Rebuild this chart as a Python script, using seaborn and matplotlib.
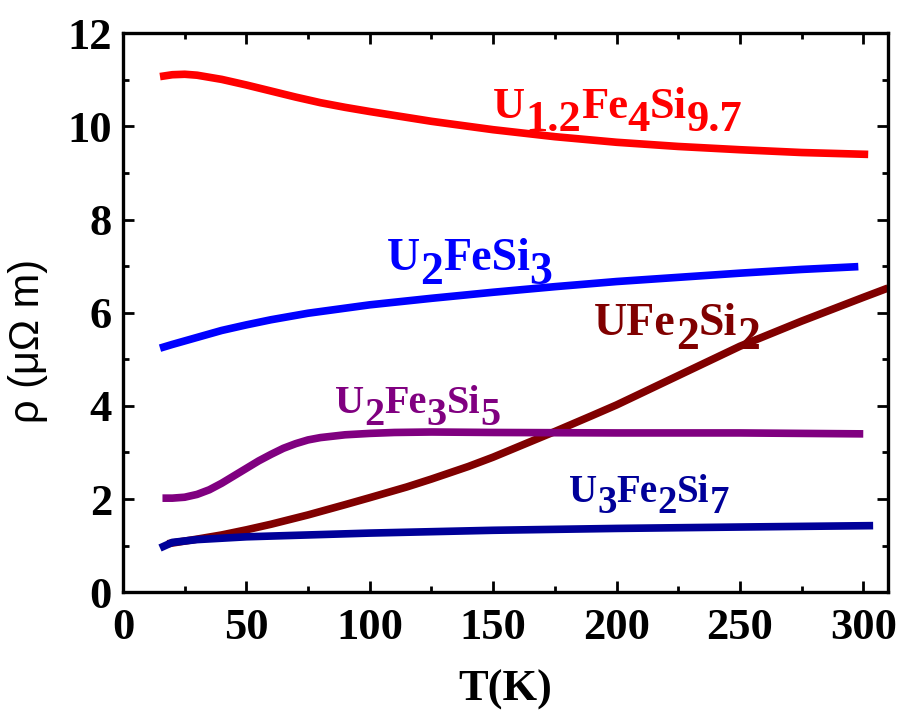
import numpy as np
import pandas as pd
import matplotlib
matplotlib.use("Agg")
import matplotlib.pyplot as plt
from matplotlib.ticker import MultipleLocator
import seaborn as sns

# resistivity curves (T in K, rho in micro-ohm m)
t_u12fe4si97 = [15, 20, 25, 30, 40, 50, 60, 70, 80, 90, 100, 125, 150, 175, 200, 225, 250, 275, 302]
rho_u12fe4si97 = [11.07, 11.11, 11.12, 11.10, 11.01, 10.89, 10.76, 10.63, 10.51, 10.41, 10.32,
                  10.11, 9.93, 9.78, 9.66, 9.57, 9.50, 9.44, 9.40]

t_u2fesi3 = [15, 20, 30, 40, 50, 60, 75, 100, 125, 150, 175, 200, 225, 250, 275, 298]
rho_u2fesi3 = [5.24, 5.32, 5.47, 5.62, 5.74, 5.85, 5.99, 6.17, 6.31, 6.44, 6.56, 6.67, 6.76, 6.85,
               6.93, 6.99]

t_ufe2si2 = [18, 30, 40, 50, 60, 75, 90, 100, 115, 125, 140, 150, 165, 175, 190, 200, 225, 250,
             275, 300, 310]
rho_ufe2si2 = [1.04, 1.14, 1.23, 1.34, 1.46, 1.66, 1.88, 2.03, 2.26, 2.43, 2.70, 2.90, 3.23, 3.45,
               3.79, 4.02, 4.65, 5.28, 5.82, 6.33, 6.53]

t_u2fe3si5 = [16, 20, 25, 30, 35, 40, 45, 50, 55, 60, 65, 70, 75, 80, 90, 100, 110, 125, 150, 200,
              250, 300]
rho_u2fe3si5 = [2.02, 2.02, 2.04, 2.10, 2.20, 2.34, 2.50, 2.66, 2.82, 2.96, 3.09, 3.19, 3.27, 3.32,
                3.38, 3.41, 3.43, 3.44, 3.43, 3.42, 3.42, 3.40]

t_u3fe2si7 = [15, 20, 30, 50, 75, 100, 150, 200, 250, 304]
rho_u3fe2si7 = [0.95, 1.07, 1.13, 1.19, 1.23, 1.27, 1.33, 1.37, 1.40, 1.43]

compounds = ["U1.2Fe4Si9.7", "U2FeSi3", "UFe2Si2", "U2Fe3Si5", "U3Fe2Si7"]
colors = ["#ff0000", "#0000ff", "#800000", "#800080", "#000099"]
# formula pieces: (text, is_subscript)
formulas = [
    [("U", 0), ("1.2", 1), ("Fe", 0), ("4", 1), ("Si", 0), ("9.7", 1)],
    [("U", 0), ("2", 1), ("FeSi", 0), ("3", 1)],
    [("UFe", 0), ("2", 1), ("Si", 0), ("2", 1)],
    [("U", 0), ("2", 1), ("Fe", 0), ("3", 1), ("Si", 0), ("5", 1)],
    [("U", 0), ("3", 1), ("Fe", 0), ("2", 1), ("Si", 0), ("7", 1)],
]
label_pos = [(149.9, 10.18), (106.9, 6.92), (191.0, 5.52), (85.8, 3.84), (180.7, 1.945)]
label_size = [32, 33, 33, 29, 28]

series = [(t_u12fe4si97, rho_u12fe4si97), (t_u2fesi3, rho_u2fesi3), (t_ufe2si2, rho_ufe2si2),
          (t_u2fe3si5, rho_u2fe3si5), (t_u3fe2si7, rho_u3fe2si7)]

frames = []
for name, (t, r) in zip(compounds, series):
    frames.append(pd.DataFrame({"T": t, "rho": r, "compound": name}))
df = pd.concat(frames, ignore_index=True)

sns.set_theme(style="ticks")
plt.rcParams["font.family"] = ["Liberation Serif", "DejaVu Serif"]
plt.rcParams["font.weight"] = "bold"
for key in ["text.color", "axes.labelcolor", "xtick.color", "ytick.color", "axes.edgecolor"]:
    plt.rcParams[key] = "black"

fig = plt.figure(figsize=(9.01, 7.17), dpi=100)
ax = fig.add_axes([0.1365, 0.174, 0.849, 0.7796])

sns.lineplot(data=df, x="T", y="rho", hue="compound", hue_order=compounds,
             palette=dict(zip(compounds, colors)), linewidth=5.5, legend=False,
             sort=False, estimator=None, ax=ax)
for line in ax.get_lines():
    line.set_solid_capstyle("butt")

ax.set_xlim(0, 310)
ax.set_ylim(0, 12)

# chemical formulas with full-size, lowered subscripts
renderer = fig.canvas.get_renderer()
for pieces, col, (x, y), fs in zip(formulas, colors, label_pos, label_size):
    dx = 0.0
    for txt, sub in pieces:
        dy = -0.3 * fs if sub else 0.0
        t = ax.annotate(txt, xy=(x, y), xycoords="data", xytext=(dx, dy),
                        textcoords="offset points", ha="left", va="baseline",
                        color=col, fontsize=fs, fontweight="bold")
        dx += t.get_window_extent(renderer).width * 72.0 / fig.dpi

ax.xaxis.set_major_locator(MultipleLocator(50))
ax.xaxis.set_minor_locator(MultipleLocator(25))
ax.yaxis.set_major_locator(MultipleLocator(2))
ax.yaxis.set_minor_locator(MultipleLocator(1))
ax.tick_params(which="both", direction="in", top=True, right=True, width=2)
ax.tick_params(which="major", length=8, labelsize=32)
ax.tick_params(axis="x", which="major", pad=11)
ax.tick_params(axis="y", which="major", pad=8)
ax.tick_params(which="minor", length=4.5)
for sp in ax.spines.values():
    sp.set_linewidth(2.4)

ax.set_xlabel("T(K)", fontsize=32, fontweight="bold", labelpad=16)
ax.set_ylabel("ρ (μΩ m)", fontsize=30, fontweight="normal", family="Liberation Sans")
ax.yaxis.set_label_coords(-0.098, 0.45)

fig.savefig("out.png", dpi=100)
